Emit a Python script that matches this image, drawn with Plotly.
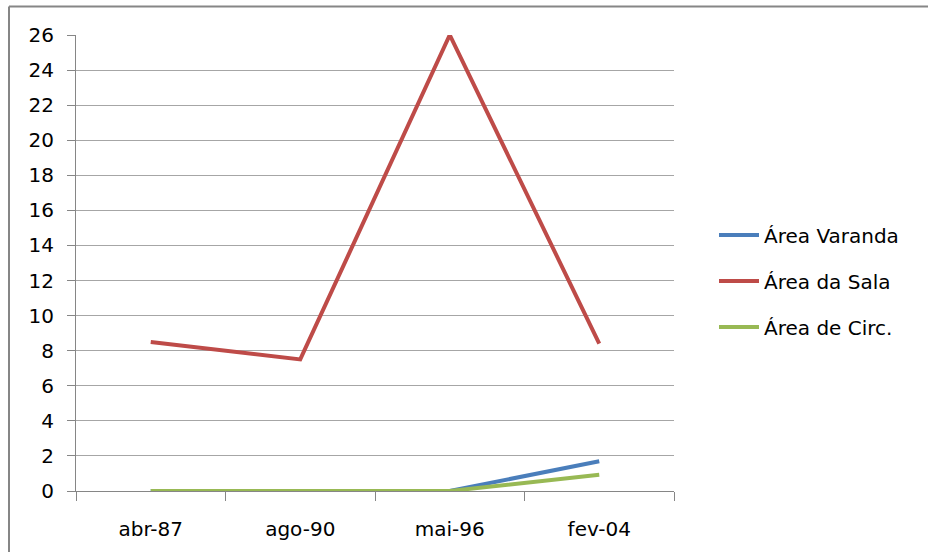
import plotly.graph_objects as go

categories = ["abr-87", "ago-90", "mai-96", "fev-04"]
varanda = [0, 0, 0, 1.7]
sala = [8.5, 7.5, 26, 8.4]
circ = [0, 0, 0, 0.93]
series_names = ["Área Varanda", "Área da Sala", "Área de Circ."]
colors = ["#4a7ebb", "#be4b48", "#98b954"]
y_ticks = list(range(0, 27, 2))

W, H = 928, 552
L, R, T, B = 76, 254, 35, 61

fig = go.Figure()
for i, (name, vals) in enumerate(zip(series_names, [varanda, sala, circ])):
    fig.add_trace(go.Scatter(
        x=categories, y=vals, name=name, mode="lines",
        line=dict(color=colors[i], width=4),
        legendgroup=f"g{i}",
    ))

pw = W - L - R
ph = H - T - B
fig.update_layout(
    width=W, height=H,
    margin=dict(l=L, r=R, t=T, b=B),
    paper_bgcolor="white", plot_bgcolor="white",
    font=dict(family="DejaVu Sans, sans-serif", size=20, color="#000000"),
    showlegend=True,
    legend=dict(x=(714 - L) / pw, xanchor="left", y=(H - B - 281) / ph, yanchor="middle",
                tracegroupgap=17, font=dict(size=20), itemwidth=40,
                bgcolor="rgba(0,0,0,0)"),
    xaxis=dict(type="category", range=[-0.5, 3.5], showgrid=False,
               showline=True, linecolor="#868686", linewidth=1,
               ticks="outside", ticklen=9, tickcolor="#868686", tickson="boundaries",
               ticklabelstandoff=20, fixedrange=True),
    yaxis=dict(range=[0, 26], tickvals=y_ticks, showgrid=True, gridcolor="#a6a6a6",
               gridwidth=1, zeroline=False, showline=True, linecolor="#868686",
               ticks="outside", ticklen=8, tickcolor="#868686",
               ticklabelstandoff=9, fixedrange=True),
    shapes=[
        dict(type="line", xref="paper", yref="paper",
             x0=(9 - L) / pw, x1=(W + 5 - L) / pw,
             y0=(H - B - 6.5) / ph, y1=(H - B - 6.5) / ph,
             line=dict(color="#868686", width=2)),
        dict(type="line", xref="paper", yref="paper",
             x0=(9 - L) / pw, x1=(9 - L) / pw,
             y0=(H - B - 6.5) / ph, y1=(H - B - H - 5) / ph,
             line=dict(color="#868686", width=2)),
    ],
)

fig.write_html(
    "out.html",
    config={"displayModeBar": False},
    post_script="document.body.style.margin='0';document.body.style.overflow='hidden';",
)
